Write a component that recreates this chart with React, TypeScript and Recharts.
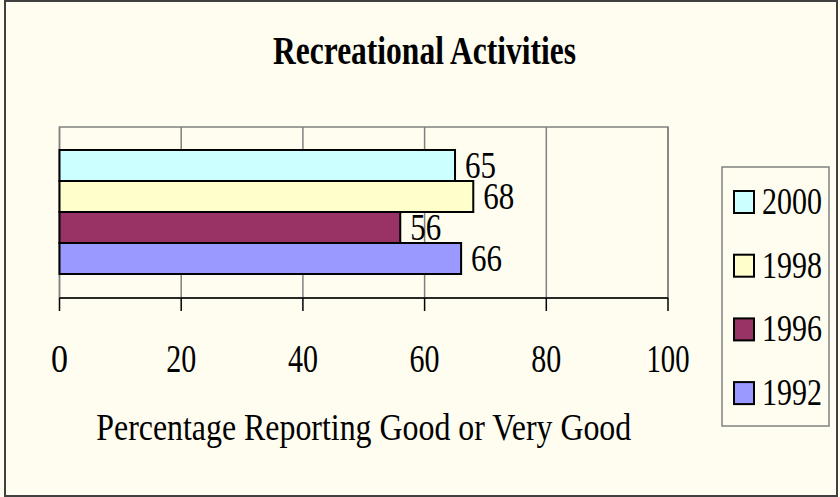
import React from "react";
import {
    BarChart,
    Bar,
    XAxis,
    YAxis,
    CartesianGrid,
    ReferenceArea,
    LabelList,
} from "recharts";

// Datos
const categories = ["Recreational Activities"];
const seriesNames = ["2000", "1998", "1996", "1992"];
const seriesValues = [[65], [68], [56], [66]];
const seriesColors = ["#CCFFFF", "#FFFFCC", "#993366", "#9999FF"];
const xTicks = [0, 20, 40, 60, 80, 100];
const chartTitle = "Recreational Activities";
const xAxisTitle = "Percentage Reporting Good or Very Good";

const FONT = "'Liberation Serif', 'Times New Roman', serif";

const data = categories.map((category, i) => {
    const row: Record<string, string | number> = { category };
    seriesNames.forEach((name, j) => {
        row["y" + name] = seriesValues[j][i];
    });
    return row;
});

function AxisTick({ x, y, payload }: any) {
    const s = String(payload.value);
    return (
        <text
            x={x}
            y={y + 59}
            textAnchor="middle"
            fontFamily={FONT}
            fontSize={39}
            fill="#000"
            textLength={17 + (s.length - 1) * 13}
            lengthAdjust="spacingAndGlyphs"
        >
            {s}
        </text>
    );
}

function AxisTitle({ viewBox }: any) {
    const cx = viewBox.x + viewBox.width / 2;
    return (
        <text
            x={cx}
            y={440}
            textAnchor="middle"
            fontFamily={FONT}
            fontSize={38}
            fill="#000"
            textLength={535}
            lengthAdjust="spacingAndGlyphs"
        >
            {xAxisTitle}
        </text>
    );
}

function ValueLabel({ x, y, width, height, value }: any) {
    const s = String(value);
    return (
        <text
            x={x + width + 10}
            y={y + height / 2 + 12}
            fontFamily={FONT}
            fontSize={37}
            fill="#000"
            textLength={s.length * 15.5}
            lengthAdjust="spacingAndGlyphs"
        >
            {s}
        </text>
    );
}

export default function App() {
    return (
        <div style={{ position: "absolute", left: 0, top: 0, width: 840, height: 497, background: "#FFFDF0" }}>
            {/* marco exterior */}
            <div
                style={{
                    position: "absolute",
                    left: 4,
                    top: 0,
                    width: 834,
                    height: 497,
                    boxSizing: "border-box",
                    border: "2px solid #404040",
                }}
            />
            <div style={{ position: "absolute", left: 0, top: 0 }}>
                <BarChart
                    width={840}
                    height={497}
                    data={data}
                    layout="vertical"
                    margin={{ top: 127, right: 172, left: 59.5, bottom: 139 }}
                    barCategoryGap="13.5%"
                    barGap={0}
                >
                    <CartesianGrid horizontal={false} stroke="#808080" strokeWidth={1.5} />
                    <ReferenceArea x1={0} x2={100} fill="none" stroke="#808080" strokeWidth={1.5} ifOverflow="visible" />
                    <XAxis
                        type="number"
                        domain={[0, 100]}
                        ticks={xTicks}
                        height={60}
                        axisLine={{ stroke: "#000", strokeWidth: 1.5 }}
                        tickLine={{ stroke: "#000", strokeWidth: 1.5 }}
                        tickSize={13}
                        tick={<AxisTick />}
                        interval={0}
                        label={<AxisTitle />}
                    />
                    <YAxis type="category" dataKey="category" hide width={0} />
                    {seriesNames.map((name, j) => (
                        <Bar
                            key={name}
                            dataKey={"y" + name}
                            name={name}
                            fill={seriesColors[j]}
                            stroke="#000"
                            strokeWidth={2}
                            isAnimationActive={false}
                        >
                            <LabelList dataKey={"y" + name} content={<ValueLabel />} />
                        </Bar>
                    ))}
                </BarChart>
            </div>
            {/* título y leyenda */}
            <svg
                width={840}
                height={497}
                style={{ position: "absolute", left: 0, top: 0, pointerEvents: "none" }}
            >
                <text
                    x={424.5}
                    y={64}
                    textAnchor="middle"
                    fontFamily={FONT}
                    fontWeight="bold"
                    fontSize={40}
                    fill="#000"
                    textLength={303}
                    lengthAdjust="spacingAndGlyphs"
                >
                    {chartTitle}
                </text>
                <rect x={722} y={167} width={107} height={259} fill="none" stroke="#808080" strokeWidth={1.5} />
                {seriesNames.map((name, j) => {
                    const base = 214 + j * 63.7;
                    return (
                        <g key={name}>
                            <rect x={734} y={base - 23} width={20} height={22} fill={seriesColors[j]} stroke="#000" strokeWidth={2} />
                            <text
                                x={762}
                                y={base}
                                fontFamily={FONT}
                                fontSize={38}
                                fill="#000"
                                textLength={60}
                                lengthAdjust="spacingAndGlyphs"
                            >
                                {name}
                            </text>
                        </g>
                    );
                })}
            </svg>
        </div>
    );
}
